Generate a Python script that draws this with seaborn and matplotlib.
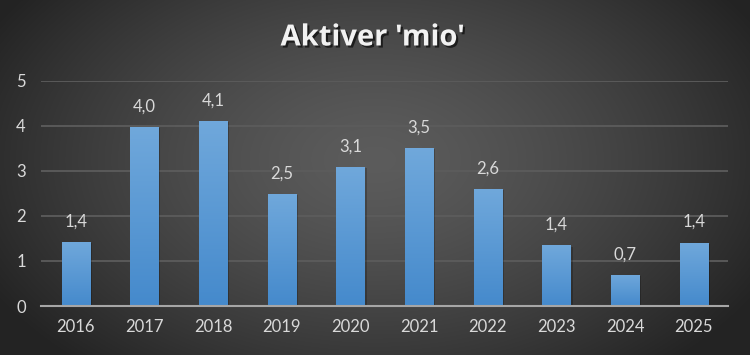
import numpy as np
import pandas as pd
import seaborn as sns
import matplotlib.pyplot as plt
import matplotlib.patheffects as pe

years = ["2016", "2017", "2018", "2019", "2020", "2021", "2022", "2023", "2024", "2025"]
aktiver = [1.43, 3.98, 4.11, 2.49, 3.09, 3.51, 2.60, 1.35, 0.69, 1.41]
yticks = [0, 1, 2, 3, 4, 5]

df = pd.DataFrame({"year": years, "value": aktiver})

sns.set_theme(style="dark")
plt.rcParams['font.family'] = ['Lato', 'DejaVu Sans']

fig = plt.figure(figsize=(7.5, 3.55), dpi=100)

# radial background, light in the middle, dark to the corners
bg = fig.add_axes([0, 0, 1, 1], zorder=-1)
xx, yy = np.meshgrid(np.linspace(0, 1, 750), np.linspace(0, 1, 355))
r = np.sqrt(((xx - 0.5) / 0.6) ** 2 + ((yy - 0.45) / 0.8) ** 2)
shade = np.clip(0.36 - 0.23 * r ** 1.4, 0.14, 0.36)
bg.imshow(np.dstack([shade, shade, shade]), aspect="auto", extent=[0, 1, 0, 1])
bg.axis("off")

ax = fig.add_axes([0.055, 0.138, 0.916, 0.634])
ax.set_facecolor("none")
sns.barplot(data=df, x="year", y="value", color="#4f92d2", width=0.41, ax=ax, zorder=3)

# gradient fill for each bar
grad = np.linspace(0, 1, 256).reshape(-1, 1)
top = np.array([0.44, 0.66, 0.86])
bot = np.array([0.27, 0.54, 0.80])
cols = top[None, None, :] * (1 - grad[:, :, None]) + bot[None, None, :] * grad[:, :, None]
for p in ax.patches[:]:
    p.set_edgecolor("none")
    x0, w, h = p.get_x(), p.get_width(), p.get_height()
    ax.add_patch(plt.Rectangle((x0 + 0.03, 0), w, h - 0.03, color="black", alpha=0.22, zorder=2, lw=0))
    im = ax.imshow(cols, extent=[x0 - 0.01, x0 + w + 0.01, 0, h + 0.01], aspect="auto",
                   zorder=4, interpolation="bilinear")
    im.set_clip_path(p)

ax.set_xlim(-0.5, len(years) - 0.5)
ax.set_ylim(0, 5)
ax.set_yticks(yticks)
ax.set_xlabel("")
ax.set_ylabel("")
ax.grid(axis="y", color="#5c5c5c", lw=1.3, zorder=0)
ax.grid(axis="x", visible=False)
for s in ["top", "right", "left"]:
    ax.spines[s].set_visible(False)
ax.spines["bottom"].set_color("#a6a6a6")
ax.spines["bottom"].set_linewidth(1.5)
ax.spines["bottom"].set_zorder(5)
ax.tick_params(colors="#d9d9d9", labelsize=12, length=0)
ax.tick_params(axis="x", pad=9)
ax.tick_params(axis="y", pad=18)
for t in ax.get_yticklabels():
    t.set_horizontalalignment("left")

labels = [f"{v:.1f}".replace(".", ",") for v in aktiver]
ax.bar_label(ax.containers[0], labels=labels, padding=9, color="#d9d9d9", fontsize=12)

fig.text(0.497, 0.893, "Aktiver 'mio'", ha="center", va="center", color="#f2f2f2",
         fontsize=21, fontweight="bold", family=["Open Sans", "DejaVu Sans"],
         path_effects=[pe.withSimplePatchShadow(offset=(1.5, -1.5), shadow_rgbFace="black", alpha=0.6)])

fig.savefig("out.png", dpi=100, facecolor="#333333")
